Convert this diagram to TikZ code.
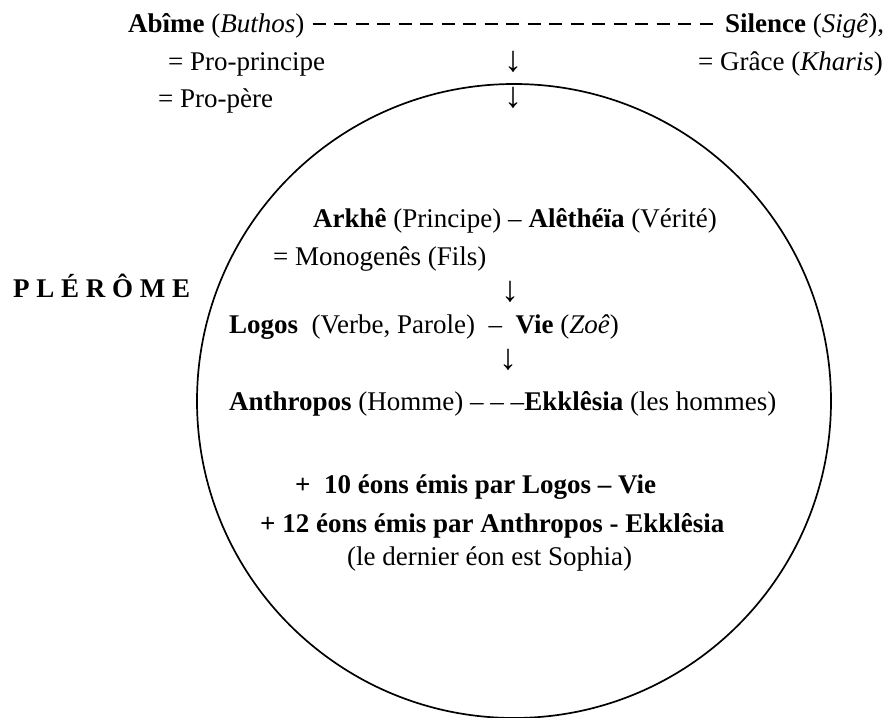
\documentclass[tikz,border=0pt]{standalone}
\usepackage{fontspec}
\setmainfont{Liberation Serif}
\begin{document}
\begin{tikzpicture}[x=1pt,y=-1pt,
  txt/.style={inner sep=0pt, anchor=base west, font=\fontsize{27}{30}\selectfont},
  arr/.style={inner sep=0pt, anchor=center, font=\fontsize{36}{40}\selectfont},
  dashline/.style={line width=1.6pt, dash pattern=on 13pt off 8.5pt},
  ring/.style={circle, draw, line width=1.7pt, inner sep=0pt, minimum size=634pt}]
\useasboundingbox (0,0) rectangle (887,718);
\node[ring] (pleroma) at (514,401) {};
% top
\node[txt] (abime) at (128,32) {\textbf{Abîme} (\textit{Buthos})};
\node[txt] (silence) at (725,32) {\textbf{Silence} (\textit{Sigê}),};
\draw[dashline] ([xshift=8pt,yshift=8pt]abime.base east) -- ([xshift=-8pt,yshift=8pt]silence.base west);
\node[txt] (proprincipe) at (168,70) {= Pro-principe};
\node[txt] (propere) at (158,107) {= Pro-père};
\node[txt] (grace) at (698,70) {= Grâce (\textit{Kharis})};
\node[arr] (a1) at (513,62) {↓};
\node[arr] (a2) at (513,98) {↓};
% label
\node[txt] (label) at (13,297) {\textbf{P L É R Ô M E}};
% inside
\node[txt] (arkhe) at (313,227) {\textbf{Arkhê} (Principe) – \textbf{Alêthéïa} (Vérité)};
\node[txt] (mono) at (273,265) {= Monogenês (Fils)};
\node[arr] (a3) at (510,292) {↓};
\node[txt] (logos) at (229,333) {\textbf{Logos}\ \ (Verbe, Parole)\ \ –\ \ \textbf{Vie} (\textit{Zoê})};
\node[arr] (a4) at (508,360) {↓};
\node[txt] (anthropos) at (229,410) {\textbf{Anthropos} (Homme) – – –\textbf{Ekklêsia} (les hommes)};
\node[txt] (dix) at (295,493) {\textbf{+\ \ 10 éons émis par Logos – Vie}};
\node[txt] (douze) at (260,532) {\textbf{+ 12 éons émis par Anthropos - Ekklêsia}};
\node[txt] (sophia) at (347,565) {(le dernier éon est Sophia)};
\end{tikzpicture}
\end{document}
